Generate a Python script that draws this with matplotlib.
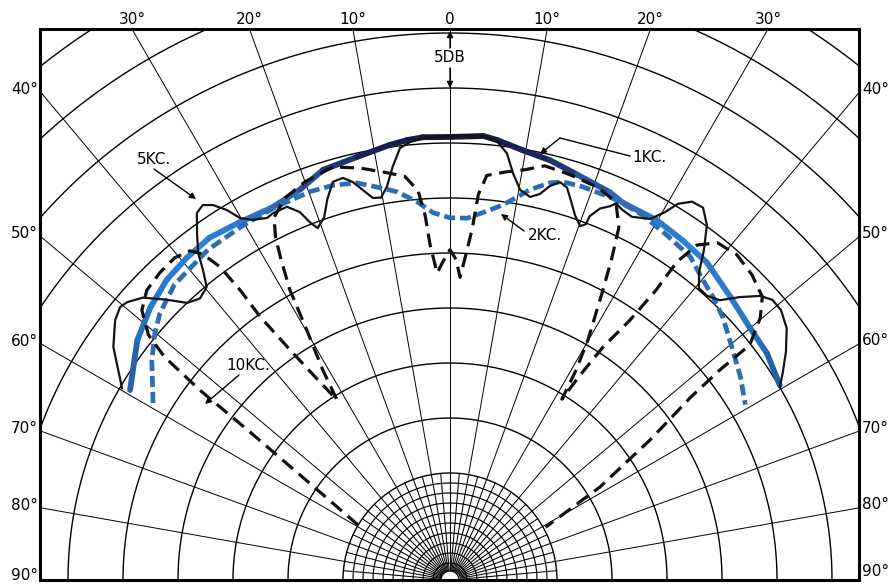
import numpy as np
import matplotlib.pyplot as plt
from matplotlib.collections import LineCollection
from matplotlib.colors import LinearSegmentedColormap

plt.rcParams['font.family'] = 'DejaVu Sans'
plt.rcParams['lines.scale_dashes'] = False

# grid of the chart: one ring every 5 dB, a spoke every 10 degrees
ring_levels = [-30, -25, -20, -15, -10, -5, 0, 5, 10, 15, 20]
spoke_angles = list(range(-90, 91, 10))
top_labels = [-30, -20, -10, 0, 10, 20, 30]
side_labels = [40, 50, 60, 70, 80, 90]

# responses: angle off axis (deg), level (dB)
kc1_angle = [-59.3, -52.5, -47.7, -43.3, -39.2, -35.1, -30.4, -25.4, -21.0, -17.2,
             -12.4, -7.9, -5.6, -3.5, 0.0, 4.3, 6.1, 9.6, 13.4, 17.4, 22.4, 24.6,
             29.9, 34.4, 39.0, 44.7, 49.9, 54.4, 59.4]
kc1_level = [-5.9, -3.9, -2.9, -2.2, -1.9, -1.7, -2.0, -2.2, -1.7, -0.7,
             -0.35, 0.2, 0.45, 0.6, 0.55, 0.75, 0.5, -0.1, -0.5, -1.1, -1.6, -2.0,
             -2.0, -2.3, -2.6, -3.5, -4.1, -4.3, -4.9]

kc2_angle = [-59.2, -53.6, -50.1, -47.4, -43.0, -36.2, -30.1, -25.1, -19.8, -16.5,
             -13.2, -10.5, -7.8, -5.0, -2.65, 0.0, 2.7, 5.1, 8.0, 9.9, 11.6, 14.1,
             15.85, 18.7, 23.0, 27.75, 32.2, 36.6, 40.1, 42.9, 46.1, 50.9, 55.0, 59.3]
kc2_level = [-8.3, -6.05, -4.75, -3.9, -3.0, -2.5, -2.4, -2.3, -2.2, -2.3,
             -2.65, -3.4, -4.1, -5.2, -6.3, -6.8, -6.8, -6.2, -5.3, -4.4, -3.5, -2.5,
             -2.1, -2.0, -2.0, -2.2, -2.7, -3.1, -4.05, -4.6, -5.3, -6.6, -7.5, -8.5]

kc5_angle = [-59.7, -55.3, -52.2, -50.4, -49.3, -47.4, -45.3, -43.5, -41.6, -39.7,
             -38.55, -37.6, -36.1, -34.6, -33.4, -32.3, -31.1, -30.1, -28.7, -26.8,
             -25.75, -23.6, -22.2, -21.4, -20.6, -19.1, -17.9, -16.4, -14.9, -13.7,
             -12.6, -11.4, -10.2, -9.1, -7.9, -6.6, -5.2, -3.2, 0.0, 4.3,
             6.1, 7.6, 8.8, 10.2, 11.8, 13.1, 14.2, 15.45, 16.6, 17.75,
             18.95, 20.2, 20.9, 21.0, 22.0, 23.2, 23.8, 24.9, 26.6, 29.0,
             30.3, 31.2, 32.6, 34.2, 35.9, 37.6, 38.95, 40.45, 42.1, 43.95,
             45.7, 47.5, 49.0, 50.8, 53.2, 55.8, 58.1, 59.7]
kc5_level = [-5.2, -2.5, -1.2, -0.8, -1.0, -1.8, -3.5, -5.0, -5.5, -5.1,
             -3.7, -2.2, -0.7, 0.8, 1.1, 0.6, -0.45, -1.7, -2.4, -2.85,
             -2.7, -2.7, -3.6, -4.8, -5.55, -4.8, -3.4, -2.0, -1.9, -2.5,
             -3.4, -4.3, -4.4, -3.5, -1.8, -0.2, 0.25, 0.6, 0.65, 0.75,
             0.4, -0.6, -2.3, -3.7, -4.15, -3.7, -2.8, -2.2, -2.5, -3.6,
             -4.7, -5.45, -5.1, -4.3, -3.3, -2.75, -2.3, -2.6, -2.8, -2.2,
             -1.0, 0.25, 1.1, 1.2, 0.1, -1.9, -3.7, -4.85, -4.9, -4.4,
             -2.9, -1.5, -0.9, -0.9, -1.5, -2.8, -4.1, -5.0]

kc10_angle = [-59.1, -55.0, -53.5, -52.8, -52.0, -50.9, -48.8, -46.3, -43.3, -40.5,
              -38.3, -37.2, -36.3, -35.9, -35.8, -34.7, -33.3, -32.1, -31.2, -29.8,
              -28.9, -27.8, -27.0, -25.9, -23.4, -20.0, -15.8, -12.3, -9.05, -6.4,
              -4.7, -3.9, -3.4, -2.4, -1.3, 0.0, 1.1, 1.9, 2.8, 3.6,
              4.2, 5.2, 7.7, 10.4, 12.9, 16.5, 20.7, 23.7, 25.6, 26.7,
              27.8, 29.9, 31.0, 31.75, 32.4, 33.3, 34.7, 35.4, 35.5, 36.4,
              38.4, 41.4, 44.7, 47.8, 49.8, 51.9, 52.1, 52.8, 55.0, 58.2, 61.1]
kc10_level = [-30.0, -23.1, -17.1, -11.2, -6.8, -4.4, -2.5, -1.6, -1.3, -1.2,
              -1.6, -2.5, -4.4, -7.2, -10.2, -14.6, -18.2, -20.4, -17.4, -13.5,
              -9.6, -6.8, -4.8, -3.1, -1.9, -1.2, -0.7, -1.4, -2.2, -2.8,
              -4.2, -6.5, -9.2, -11.8, -10.8, -9.7, -10.6, -12.2, -10.1, -7.8,
              -4.6, -2.8, -2.3, -1.8, -1.1, -1.3, -1.6, -2.2, -4.2, -7.0,
              -9.9, -14.6, -17.5, -20.4, -17.7, -14.4, -11.0, -7.4, -4.2, -1.9,
              -0.6, -0.3, -0.7, -1.4, -2.8, -5.1, -8.6, -12.3, -17.5, -23.7, -29.8]

# sheet scale: radius of the 0 dB ring and pixels per dB
R0 = 437.0
PX_PER_DB = 11.0


def to_xy(angle, level):
    a = np.radians(np.asarray(angle, dtype=float))
    r = R0 + PX_PER_DB * np.asarray(level, dtype=float)
    return r * np.sin(a), r * np.cos(a)


def radius(level):
    return R0 + PX_PER_DB * level


fig = plt.figure(figsize=(8.93, 5.86), dpi=100)
ax = fig.add_axes([40 / 893, 6 / 586, 819 / 893, 551 / 586])
ax.set_xlim(-410, 409)
ax.set_ylim(0, 551)
ax.set_xticks([])
ax.set_yticks([])
for sp in ax.spines.values():
    sp.set_linewidth(2.2)
    sp.set_zorder(10)

# outer rings and spokes
th = np.radians(np.linspace(-90, 90, 721))
r_edge = radius(ring_levels[0])
for lv in ring_levels:
    r = radius(lv)
    ax.plot(r * np.sin(th), r * np.cos(th), color='black', lw=1.0, zorder=1)
for a in spoke_angles:
    t = np.radians(a)
    ax.plot([r_edge * np.sin(t), 900 * np.sin(t)], [r_edge * np.cos(t), 900 * np.cos(t)],
            color='black', lw=0.7, zorder=1)

# fine grid in the centre
for r in np.arange(17, r_edge, 10):
    ax.plot(r * np.sin(th), r * np.cos(th), color='black', lw=0.85, zorder=1)
for a in np.arange(-90, 91, 5):
    t = np.radians(a)
    ax.plot([9 * np.sin(t), r_edge * np.sin(t)], [9 * np.cos(t), r_edge * np.cos(t)],
            color='black', lw=0.75, zorder=1)
ax.fill_between(9 * np.sin(th), 0, 9 * np.cos(th), color='white', zorder=2)
ax.plot(9 * np.sin(th), 9 * np.cos(th), color='black', lw=0.9, zorder=2)

# 1 KC. - thick shaded blue line
x1, y1 = to_xy(kc1_angle, kc1_level)
pts = np.column_stack([x1, y1])
segs = np.stack([pts[:-1], pts[1:]], axis=1)
ang = np.abs(np.array(kc1_angle))
mid = (ang[:-1] + ang[1:]) / 2
cmap = LinearSegmentedColormap.from_list(
    'kc1', ['#15163a', '#1b2458', '#2c6cbc', '#2b83d6', '#2a78c8', '#24589a'])
lc = LineCollection(segs, colors=cmap(mid / 60), linewidths=4.2,
                    capstyle='round', joinstyle='round', zorder=3)
ax.add_collection(lc)

# 2 KC. - thick dashed blue
x2, y2 = to_xy(kc2_angle, kc2_level)
ax.plot(x2, y2, color='#2c6db4', lw=3.4, dashes=(8, 3.5), zorder=4)

# 10 KC. - black long dashes
x10, y10 = to_xy(kc10_angle, kc10_level)
ax.plot(x10, y10, color='#111111', lw=2.3, dashes=(10, 5.5), zorder=5)

# 5 KC. - thin black line
x5, y5 = to_xy(kc5_angle, kc5_level)
ax.plot(x5, y5, color='#141414', lw=1.6, solid_joinstyle='round', zorder=6)

# angle labels
fs = 11
for a in top_labels:
    txt = '0' if a == 0 else f'{abs(a)}°'
    ax.text(551 * np.tan(np.radians(a)), 561, txt, ha='center', va='center',
            fontsize=fs, clip_on=False)
for a in side_labels:
    t = np.radians(a)
    yl = 410 / np.tan(t) if a < 90 else 3
    yr = 409 / np.tan(t) if a < 90 else 6
    ax.text(-412, yl + 2, f'{a}°', ha='right', va='center', fontsize=fs, clip_on=False)
    ax.text(412, yr + 3, f'{a}°', ha='left', va='center', fontsize=fs, clip_on=False)

# annotations
arrow = dict(arrowstyle='-|>', color='black', lw=1.0, mutation_scale=9,
             shrinkA=0, shrinkB=0)
ax.text(0, 522, '5DB', ha='center', va='center', fontsize=fs, zorder=7,
        bbox=dict(facecolor='white', edgecolor='none', pad=1.5))
ax.annotate('', xy=(0, 549), xytext=(0, 532), arrowprops=arrow, zorder=7)
ax.annotate('', xy=(0, radius(5)), xytext=(0, 512), arrowprops=arrow, zorder=7)

ax.text(182, 422, '1KC.', ha='left', va='center', fontsize=fs, zorder=7)
ax.plot([180, 110], [424, 442], color='black', lw=1.0, zorder=7)
ax.annotate('', xy=(90, 426), xytext=(110, 442), arrowprops=arrow, zorder=7)

ax.text(78, 344, '2KC.', ha='left', va='center', fontsize=fs, zorder=7)
ax.annotate('', xy=(51, 366), xytext=(74, 349), arrowprops=arrow, zorder=7)

ax.text(-296, 421, '5KC.', ha='center', va='center', fontsize=fs, zorder=7)
ax.annotate('', xy=(-254, 381), xytext=(-296, 411), arrowprops=arrow, zorder=7)

ax.text(-224, 214, '10KC.', ha='left', va='center', fontsize=fs, zorder=7)
ax.annotate('', xy=(-245, 176), xytext=(-211, 205), arrowprops=arrow, zorder=7)

fig.savefig('out.png', dpi=100)
